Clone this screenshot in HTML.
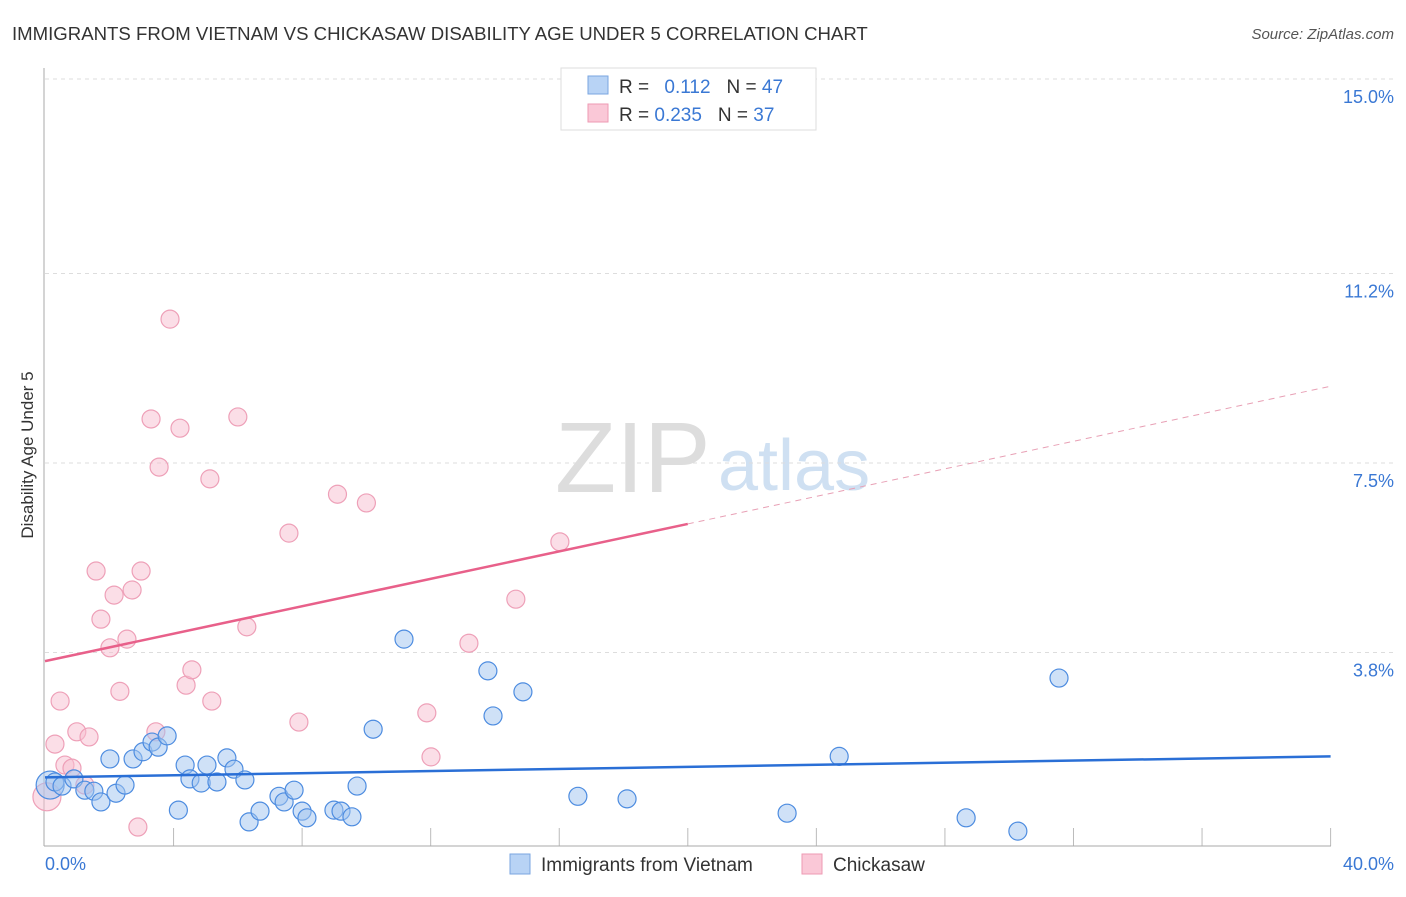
<!DOCTYPE html>
<html><head><meta charset="utf-8"><style>
body{margin:0;background:#fff;font-family:"Liberation Sans",sans-serif}
svg text{font-family:"Liberation Sans",sans-serif}
</style></head><body>
<svg width="1406" height="892">
<text x="12" y="40" font-size="18.6" fill="#333">IMMIGRANTS FROM VIETNAM VS CHICKASAW DISABILITY AGE UNDER 5 CORRELATION CHART</text>
<text x="1394" y="39" font-size="15" fill="#555" font-style="italic" text-anchor="end">Source: ZipAtlas.com</text>
<text x="555" y="492" font-size="100" fill="#ddd" font-family="Liberation Serif">ZIP</text>
<text x="718" y="490" font-size="72" fill="#cfe0f2">atlas</text>
<g id="grid"></g>
<line x1="44" y1="68" x2="44" y2="846" stroke="#aaa"/>
<line x1="44" y1="846" x2="1331" y2="846" stroke="#aaa"/>
<text x="33" y="455" font-size="17" fill="#333" transform="rotate(-90 33 455)" text-anchor="middle">Disability Age Under 5</text>
<text x="45" y="870" font-size="18" fill="#3a78d4">0.0%</text>
<text x="1394" y="870" font-size="18" fill="#3a78d4" text-anchor="end">40.0%</text>
<g id="marks"></g>
<g>
<rect x="561" y="68" width="255" height="62" fill="#fff" stroke="#ddd"/>
<rect x="588" y="76" width="20" height="18" fill="#b8d3f5" stroke="#7aa6e0"/>
<rect x="588" y="104" width="20" height="18" fill="#fac8d7" stroke="#ee9ab3"/>
<text x="619" y="93" font-size="19" fill="#333">R = <tspan fill="#3a78d4" dx="10">0.112</tspan><tspan dx="16" fill="#333">N = </tspan><tspan fill="#3a78d4">47</tspan></text>
<text x="619" y="121" font-size="19" fill="#333">R = <tspan fill="#3a78d4">0.235</tspan><tspan dx="16" fill="#333">N = </tspan><tspan fill="#3a78d4">37</tspan></text>
</g>
<g>
<rect x="510" y="854" width="20" height="20" fill="#b8d3f5" stroke="#7aa6e0"/>
<text x="541" y="871" font-size="19" fill="#333">Immigrants from Vietnam</text>
<rect x="802" y="854" width="20" height="20" fill="#fac8d7" stroke="#ee9ab3"/>
<text x="833" y="871" font-size="19" fill="#333">Chickasaw</text>
</g>
</svg>
<script>
const yTicks=[3.8,7.5,11.2,15.0];
const xTicks=[4,8,12,16,20,24,28,32,36,40];
const blueX=[0.16,0.31,0.53,0.9,1.24,1.52,1.74,2.02,2.21,2.49,2.74,3.05,3.33,3.52,3.8,4.15,4.36,4.51,4.86,5.04,5.35,5.66,5.88,6.22,6.35,6.69,7.28,7.44,7.75,8.0,8.15,8.99,9.21,9.55,9.71,10.21,11.17,13.78,13.94,14.87,16.58,18.11,23.09,24.71,28.66,30.27,31.55];
const blueY=[1.21,1.27,1.19,1.33,1.11,1.09,0.88,1.72,1.05,1.21,1.72,1.86,2.05,1.95,2.17,0.72,1.6,1.33,1.25,1.6,1.27,1.74,1.52,1.31,0.49,0.7,0.99,0.88,1.11,0.7,0.57,0.72,0.7,0.59,1.19,2.3,4.06,3.44,2.56,3.03,0.99,0.94,0.66,1.77,0.57,0.31,3.3];
const pinkX=[0.06,0.31,0.47,0.62,0.84,0.99,1.24,1.37,1.59,1.74,2.02,2.15,2.33,2.55,2.71,2.89,2.99,3.3,3.45,3.55,3.89,4.2,4.39,4.57,5.13,5.19,6.0,6.28,7.59,7.9,9.1,10.0,11.88,12.01,13.19,14.65,16.02];
const pinkY=[0.98,2.01,2.85,1.6,1.54,2.25,1.21,2.15,5.39,4.45,3.89,4.92,3.04,4.06,5.02,0.39,5.39,8.36,2.25,7.42,10.31,8.18,3.16,3.46,7.19,2.85,8.4,4.3,6.13,2.44,6.89,6.72,2.62,1.76,3.98,4.84,5.96];
const NS='http://www.w3.org/2000/svg';
const X=v=>45+v*32.14, Y=v=>847-v*51.2;
const grid=document.getElementById('grid'), marks=document.getElementById('marks');
function mk(tag,attrs,parent){const e=document.createElementNS(NS,tag);for(const k in attrs)e.setAttribute(k,attrs[k]);parent.appendChild(e);return e;}
yTicks.forEach(t=>{
 const l=mk('line',{x1:45,x2:1394,y1:Y(t),y2:Y(t),stroke:'#ddd','stroke-dasharray':'4,4'},grid);
 
 
 const tx=mk('text',{x:1394,y:Y(t)+24,'font-size':18,fill:'#3a78d4','text-anchor':'end'},grid);
 tx.textContent=t.toFixed(1)+'%';
 
 
});
xTicks.forEach(t=>{
 const l=mk('line',{x1:X(t),x2:X(t),y1:828,y2:846,stroke:'#bbb'},grid);
 
 
});
function dots(xs,ys,fill,stroke,name){
 xs.forEach((v,i)=>{
  const c=mk('circle',{cx:X(v),cy:Y(ys[i]),r:(i===0?14:9),fill:fill,stroke:stroke,'stroke-width':1.2},marks);
  
  
 });
}
dots(pinkX,pinkY,'rgba(248,190,208,0.5)','#eea0b8','chickasaw-point');
dots(blueX,blueY,'rgba(160,196,240,0.5)','#4d8ce0','vietnam-point');
const b1=mk('line',{x1:X(0),y1:Y(1.36),x2:X(40),y2:Y(1.77),stroke:'#2a6fd6','stroke-width':2.5},marks);


const p1=mk('line',{x1:X(0),y1:Y(3.63),x2:X(20),y2:Y(6.31),stroke:'#e8608a','stroke-width':2.5},marks);


const p2=mk('line',{x1:X(20),y1:Y(6.31),x2:X(40),y2:Y(9.0),stroke:'#e8a0b5','stroke-width':1,'stroke-dasharray':'6,5'},marks);


</script>
</body></html>
